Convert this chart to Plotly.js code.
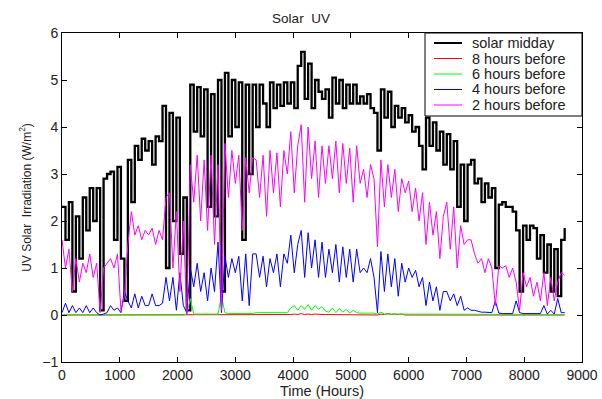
<!DOCTYPE html>
<html>
<head>
<meta charset="utf-8">
<script src="https://cdn.plot.ly/plotly-3.0.1.min.js"></script>
<style>html,body{margin:0;padding:0;background:#fff;}#chart{width:602px;height:399px;}</style>
</head>
<body>
<div id="chart"></div>
<script>
// Time (hours), sampled every 60 h
const hours = [0,60,120,180,240,300,360,420,480,540,600,660,720,780,840,900,960,1020,1080,1140,
1200,1260,1320,1380,1440,1500,1560,1620,1680,1740,1800,1860,1920,1980,2040,2100,2160,2220,2280,2340,
2400,2460,2520,2580,2640,2700,2760,2820,2880,2940,3000,3060,3120,3180,3240,3300,3360,3420,3480,3540,
3600,3660,3720,3780,3840,3900,3960,4020,4080,4140,4200,4260,4320,4380,4440,4500,4560,4620,4680,4740,
4800,4860,4920,4980,5040,5100,5160,5220,5280,5340,5400,5460,5520,5580,5640,5700,5760,5820,5880,5940,
6000,6060,6120,6180,6240,6300,6360,6420,6480,6540,6600,6660,6720,6780,6840,6900,6960,7020,7080,7140,
7200,7260,7320,7380,7440,7500,7560,7620,7680,7740,7800,7860,7920,7980,8040,8100,8160,8220,8280,8340,
8400,8460,8520,8580,8640,8700];

const solarMidday = [2.3,1.6,2.4,0.5,2.1,1.2,2.5,1.8,2.7,2.0,2.7,0.1,2.9,3.0,3.05,1.6,3.15,1.2,0.3,3.3,
2.4,3.6,3.3,3.75,3.5,3.7,3.2,3.8,3.7,4.45,1.0,4.3,2.0,4.2,1.3,2.5,0.1,4.9,3.9,4.85,
3.8,4.8,2.3,4.7,2.1,5.0,0.5,5.15,3.8,5.0,4.0,4.95,1.6,4.9,3.0,4.9,4.0,4.9,4.5,4.0,
4.95,4.4,4.9,4.45,4.95,4.5,4.95,4.4,5.3,5.6,4.6,5.35,4.4,5.0,4.75,4.6,4.8,4.2,5.05,4.5,
5.0,4.4,4.9,4.5,4.9,4.5,4.65,4.5,4.7,4.4,4.3,3.5,4.8,4.2,4.75,4.0,4.45,4.2,4.4,4.1,
4.25,3.9,4.0,3.6,3.1,4.2,3.6,4.1,3.5,3.9,3.2,3.85,3.1,3.7,2.3,3.2,2.0,3.2,3.3,2.8,
2.9,2.4,2.8,2.5,2.7,1.0,2.35,2.4,2.3,2.3,2.2,1.8,0.5,1.9,1.6,1.9,1.85,1.2,1.7,0.9,
1.5,0.5,1.4,0.4,1.6,1.85];

const before8 = [0,0,0,0,0,0,0,0,0,0,0,0,0,0,0,0,0,0,0,0,
0,0,0,0,0,0,0,0,0,0,0,0,0,0,0,0,0,0,0,0,
0,0,0,0,0,0,0,0,0.01,0,0.01,0,0.01,0,0.01,0,0.01,0,0.01,0,
0.01,0,0.01,0,0.01,0,0.01,0.02,0.01,0.03,0.01,0.02,0.01,0.02,0.01,0.01,0.01,0.01,0.01,0.01,
0.01,0.01,0.01,0.01,0.01,0.01,0.01,0.01,0.01,0.01,0.01,0,0.02,0.01,0.03,0.01,0.02,0.01,0.02,0,
0,0,0,0,0,0,0,0,0,0,0,0,0,0,0,0,0,0,0,0,
0,0,0,0,0,0,0,0,0,0,0,0,0,0,0,0,0,0,0,0,
0,0,0,0,0,0];

const before6 = [0,0,0,0,0,0,0,0,0,0,0,0,0,0,0,0,0,0,0,0,
0,0,0,0,0,0,0,0,0,0,0,0,0,0,0,0,0.02,0.35,0.02,0.02,
0.02,0.02,0.02,0.02,0.02,0.02,0.4,0.05,0.03,0.03,0.03,0.03,0.03,0.03,0.03,0.03,0.05,0.05,0.05,0.05,
0.05,0.05,0.05,0.05,0.05,0.05,0.15,0.2,0.1,0.2,0.12,0.22,0.1,0.2,0.12,0.18,0.08,0.06,0.15,0.05,
0.14,0.06,0.12,0.04,0.1,0.05,0.04,0.04,0.04,0.04,0.04,0.02,0.06,0.02,0.02,0.02,0.02,0.02,0.02,0.02,
0.02,0.02,0.02,0.02,0.02,0.02,0.02,0.02,0.02,0.02,0.02,0.01,0.01,0.01,0.01,0.01,0.01,0.01,0.01,0.01,
0.01,0.01,0.01,0.01,0.01,0.01,0.01,0.01,0.01,0.01,0.01,0.01,0.01,0.01,0.01,0.01,0.01,0.01,0.01,0.01,
0.01,0.01,0.01,0.01,0.01,0.01];

const before4 = [0.05,0.25,0.05,0.2,0.05,0.15,0.05,0.2,0.05,0.15,0.05,0.0,0.02,0.05,0.2,0.1,0.15,0.05,0.5,0.3,
0.15,0.45,0.15,0.4,0.2,0.2,0.45,0.2,0.2,0.25,0.8,0.3,0.8,0.1,0.9,0.2,0.05,1.0,0.6,1.1,
0.5,0.9,0.3,1.0,0.5,1.55,0.05,1.25,0.8,1.2,0.9,1.25,0.3,1.3,0.2,1.3,1.3,0.8,1.25,0.6,
1.2,0.9,1.3,0.6,1.3,1.1,1.7,0.9,1.5,1.8,0.8,1.75,1.0,1.6,0.8,1.55,0.8,1.4,0.9,1.5,
0.7,1.45,0.8,1.4,0.7,1.4,0.9,1.0,0.9,1.2,0.8,0.05,1.35,0.5,1.3,0.6,1.2,0.4,1.1,0.7,
1.0,0.8,0.95,0.6,0.8,0.2,0.7,0.3,0.6,0.1,0.5,0.5,0.3,0.45,0.2,0.4,0.1,0.15,0.1,0.1,
0.08,0.06,0.06,0.05,0.05,0.3,0.04,0.03,0.03,0.03,0.03,0.3,0.05,0.03,0.03,0.03,0.02,0.03,0.03,0.2,
0.02,0.1,0.02,0.35,0.05,0.05];

const before2 = [1.6,1.0,1.4,0.5,1.2,0.7,1.1,0.9,1.3,0.8,1.1,0.05,1.0,1.1,1.2,1.0,1.3,0.1,0.4,1.5,
2.2,1.7,1.9,1.6,1.8,1.7,1.85,1.5,1.8,1.6,2.5,2.6,1.0,2.2,0.5,2.0,0.0,3.2,2.4,3.4,
2.0,3.3,1.8,3.4,1.5,3.2,0.1,3.65,2.5,3.5,2.8,3.4,1.8,3.35,2.6,3.35,3.3,2.5,3.4,2.1,
3.5,2.6,3.45,2.3,3.5,3.0,3.9,2.6,3.6,4.05,2.4,4.0,2.9,3.7,2.5,3.6,2.8,3.6,2.9,3.7,
2.6,3.65,2.8,3.55,2.4,3.6,2.8,3.1,2.5,3.2,2.9,1.45,3.3,2.3,3.2,2.5,3.1,2.2,2.9,2.6,
2.85,2.2,2.7,2.0,2.6,1.5,2.4,1.7,2.2,1.2,2.1,2.4,1.4,2.3,1.0,1.9,1.5,1.6,1.6,1.3,
1.1,1.2,0.9,1.2,1.0,0.2,1.05,1.0,1.05,0.8,1.0,0.7,0.1,0.9,0.6,0.8,0.4,0.7,0.3,0.9,
0.2,0.8,0.3,0.7,0.9,0.85];

const seriesNames = ['solar midday','8 hours before','6 hours before','4 hours before','2 hours before'];
const seriesValues = [solarMidday, before8, before6, before4, before2];
const seriesColors = ['#000000','#ff0000','#00ff00','#0000ff','#ff00ff'];
const seriesWidths = [2.3,1,1,1,1];
const seriesShapes = ['hv','linear','linear','linear','linear'];

const traces = seriesNames.map((n,k)=>({
  x: hours, y: seriesValues[k], name: n, type:'scatter', mode:'lines',
  line:{color:seriesColors[k], width:seriesWidths[k], shape:seriesShapes[k]}
}));

// Custom legend box (paper coordinates of a 520x329 plot area at l=62, t=33)
const PL = 62, PW = 520, PT = 33, PH = 329;
const px2x = p => (p - PL) / PW;
const py2y = p => (PT + PH - p) / PH;
const shapes = [{type:'rect', xref:'paper', yref:'paper', x0:px2x(425), x1:px2x(582), y0:py2y(116), y1:py2y(33),
  line:{color:'#000', width:1}, fillcolor:'#fff', layer:'above'}];
const annotations = [];
const rowY = [43, 58.5, 74, 89.5, 105];
seriesNames.forEach((n,k)=>{
  shapes.push({type:'line', xref:'paper', yref:'paper', x0:px2x(434), x1:px2x(462), y0:py2y(rowY[k]), y1:py2y(rowY[k]),
    line:{color:seriesColors[k], width:k===0?2:1}, layer:'above'});
  annotations.push({xref:'paper', yref:'paper', x:px2x(470), y:py2y(rowY[k]), xanchor:'left', yanchor:'middle',
    text:n, showarrow:false, font:{family:'Liberation Sans, Arial, sans-serif', size:14.5, color:'#222'}});
});

const font = {family:'Liberation Sans, Arial, sans-serif', size:14, color:'#222'};
const layout = {
  width:602, height:399,
  margin:{l:62, r:20, t:33, b:37},
  paper_bgcolor:'#fff', plot_bgcolor:'#fff',
  font: font,
  showlegend:false,
  title:{text:'Solar\u00a0\u00a0UV', font:{family:font.family,size:13.5,color:'#222'}, x:0.5, xanchor:'center', y:0.955, yanchor:'middle'},
  xaxis:{range:[0,9000], dtick:1000, tick0:0, showgrid:false, zeroline:false, showline:true, linecolor:'#000', linewidth:1,
    mirror:'ticks', ticks:'inside', ticklen:5, tickcolor:'#000', tickfont:{size:14},
    title:{text:'Time (Hours)', font:{size:14.5}, standoff:2}},
  yaxis:{range:[-1,6], dtick:1, tick0:0, showgrid:false, zeroline:false, showline:true, linecolor:'#000', linewidth:1,
    mirror:'ticks', ticks:'inside', ticklen:5, tickcolor:'#000', tickfont:{size:14},
    title:{text:'UV Solar\u00a0\u00a0Irradiation (W/m<sup>2</sup>)', font:{size:12}, standoff:8}},
  shapes: shapes,
  annotations: annotations
};
Plotly.newPlot('chart', traces, layout, {displayModeBar:false, staticPlot:true});
</script>
</body>
</html>
